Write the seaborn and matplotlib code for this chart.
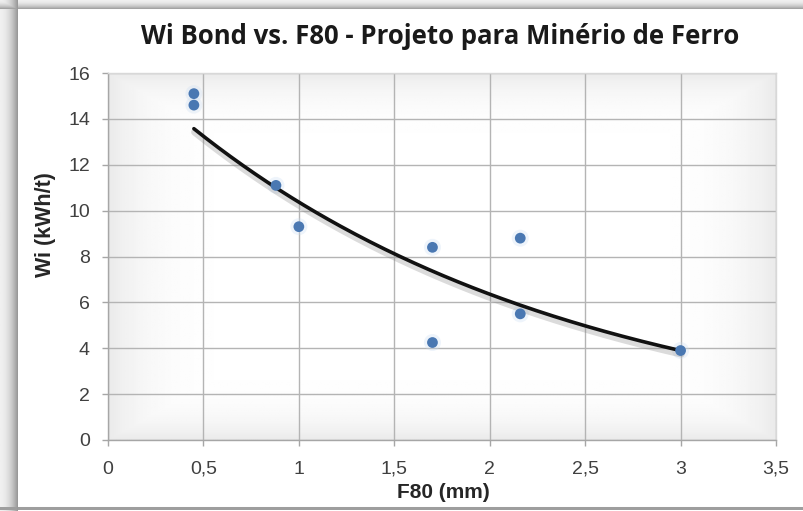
import numpy as np
import pandas as pd
import matplotlib
matplotlib.use("Agg")
import matplotlib.pyplot as plt
import matplotlib.patheffects as pe
from matplotlib.ticker import FuncFormatter, MultipleLocator
import seaborn as sns

# Measured samples: feed size F80 (mm) and Bond work index Wi (kWh/t)
f80_mm = [0.45, 0.45, 0.88, 1.00, 1.70, 1.70, 2.16, 2.16, 3.00]
wi_kwh_t = [15.1, 14.6, 11.1, 9.3, 8.4, 4.25, 8.8, 5.5, 3.9]

title = "Wi Bond vs. F80 - Projeto para Minério de Ferro"
x_label = "F80 (mm)"
y_label = "Wi (kWh/t)"

df = pd.DataFrame({"F80": f80_mm, "Wi": wi_kwh_t})

# Exponential trendline  Wi = a * exp(b * F80), fitted on ln(Wi)
b, ln_a = np.polyfit(df["F80"], np.log(df["Wi"]), 1)
trend = pd.DataFrame({"F80": np.linspace(df["F80"].min(), df["F80"].max(), 200)})
trend["Wi"] = np.exp(ln_a) * np.exp(b * trend["F80"])

sns.set_theme(style="white")
plt.rcParams["font.family"] = ["Liberation Sans", "DejaVu Sans"]

fig = plt.figure(figsize=(8.04, 5.11), dpi=100)
fig.patch.set_facecolor("white")

# Shadowed frame around the chart
bg = fig.add_axes([0, 0, 1, 1], zorder=-10)
bg.set_axis_off()
H, W = 511, 804
xs = np.arange(W)
ys = np.arange(H)
frame = np.ones((H, W))
frame[507:510, :] = 0.62
frame[:, :18] = np.minimum(frame[:, :18], 0.94 - 0.34 * (xs[:18] / 17.0)[None, :] ** 2)
frame[:10, :] = np.minimum(frame[:10, :], 0.94 - 0.30 * (ys[:10] / 9.0)[:, None] ** 2)
bg.imshow(frame, cmap="gray", vmin=0, vmax=1, extent=[0, 1, 0, 1],
          aspect="auto", interpolation="bilinear")
bg.set_xlim(0, 1)
bg.set_ylim(0, 1)

ax = fig.add_axes([108 / 804, 1 - 440 / 511, 668 / 804, 367 / 511])
ax.set_facecolor("white")

# Soft grey vignette behind the plot area
gx, gy = np.meshgrid(np.linspace(-1, 1, 300), np.linspace(-1, 1, 200))
shade = 1 - 0.08 * np.clip(np.maximum(np.abs(gx) ** 8, np.abs(gy) ** 8), 0, 1)
ax.imshow(shade, cmap="gray", vmin=0, vmax=1, extent=[0, 1, 0, 1],
          aspect="auto", transform=ax.transAxes, zorder=0)

ax.set_xlim(0, 3.5)
ax.set_ylim(0, 16)
ax.xaxis.set_major_locator(MultipleLocator(0.5))
ax.yaxis.set_major_locator(MultipleLocator(2))
comma = FuncFormatter(lambda v, _: f"{v:g}".replace(".", ","))
ax.xaxis.set_major_formatter(comma)
ax.yaxis.set_major_formatter(comma)

ax.grid(True, color="#b4b4b4", linewidth=1.0, zorder=1)
ax.set_axisbelow(True)

# Trendline with a drop shadow
sns.lineplot(data=trend, x="F80", y="Wi", ax=ax, color="#111111", linewidth=2.6,
             zorder=4, sort=False,
             path_effects=[pe.SimpleLineShadow(offset=(0.5, -2.5), shadow_color="#888888",
                                               alpha=0.3, linewidth=5), pe.Normal()])

# Sample points with a faint halo
sns.scatterplot(data=df, x="F80", y="Wi", ax=ax, s=150, color="#c9dcf2",
                edgecolor="none", alpha=0.3, zorder=3, legend=False)
sns.scatterplot(data=df, x="F80", y="Wi", ax=ax, s=60, color="#4a78b2",
                edgecolor="none", zorder=5, legend=False)

for s in ["left", "bottom"]:
    ax.spines[s].set_color("#a6a6a6")
    ax.spines[s].set_linewidth(1.0)
for s in ["top", "right"]:
    ax.spines[s].set_color("#d8d8d8")
    ax.spines[s].set_linewidth(1.0)

ax.tick_params(axis="both", which="major", direction="out", length=4, width=1,
               color="#a6a6a6", labelsize=14, labelcolor="#404040")
ax.tick_params(axis="y", pad=9)
ax.tick_params(axis="x", pad=11)
ax.xaxis.set_ticks_position("bottom")
ax.yaxis.set_ticks_position("left")

ax.set_xlabel(x_label, fontsize=15, fontweight="bold", color="#262626")
ax.set_ylabel(y_label, fontsize=15.5, fontweight="bold", color="#262626")
ax.xaxis.set_label_coords((443 - 108) / 668, (440 - 492) / 367)
ax.xaxis.label.set_va("center")
ax.yaxis.set_label_coords((45 - 108) / 668, (440 - 225) / 367)
ax.yaxis.label.set_va("center")

fig.text(440 / 804, 1 - 44 / 511, title, ha="center", va="baseline",
         fontsize=18.5, fontweight="bold", color="#1a1a1a",
         family=["Open Sans", "DejaVu Sans"])

fig.savefig("out.png", dpi=100)
